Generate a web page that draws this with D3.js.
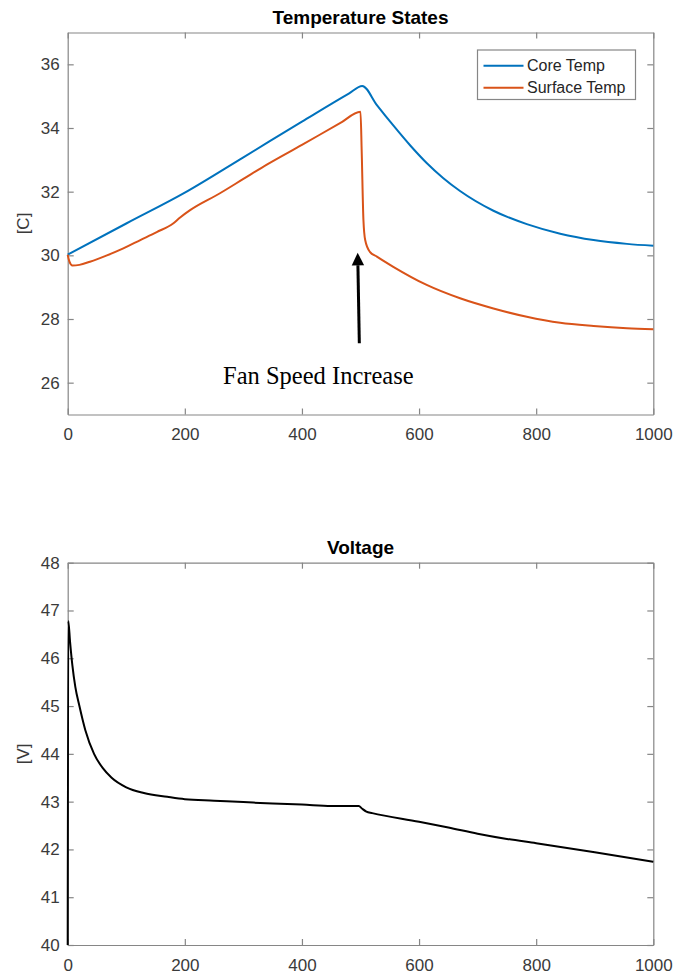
<!DOCTYPE html>
<html>
<head>
<meta charset="utf-8">
<script src="https://cdn.jsdelivr.net/npm/d3@7"></script>
<style>
  html, body { margin: 0; padding: 0; background: #fff; }
  svg { display: block; }
</style>
</head>
<body>
<svg id="chart" width="675" height="974"></svg>
<script>
// ---------------- DATA ----------------
const xTicks = [0, 200, 400, 600, 800, 1000];
const tempTicks = [26, 28, 30, 32, 34, 36];
const voltTicks = [40, 41, 42, 43, 44, 45, 46, 47, 48];

const seriesNames = ["Core Temp", "Surface Temp"];

const coreTime = [0, 100, 200, 300, 400, 480, 503, 528, 556, 585, 613, 641, 670, 727, 784, 841, 898, 955, 1000];
const coreTemp = [30.02, 31.0, 31.97, 33.08, 34.2, 35.08, 35.32, 34.72, 34.08, 33.45, 32.9, 32.43, 32.02, 31.4, 30.98, 30.68, 30.48, 30.36, 30.30];

const surfTime = [0, 3, 8, 20, 38, 67, 95, 124, 152, 180, 192, 209, 260, 300, 340, 400, 465, 500, 502, 505, 508, 516, 528, 556, 613, 670, 727, 784, 841, 898, 955, 1000];
const surfTemp = [30.02, 29.8, 29.68, 29.7, 29.8, 30.0, 30.22, 30.48, 30.73, 31.0, 31.19, 31.42, 31.95, 32.4, 32.85, 33.47, 34.15, 34.51, 33.3, 31.11, 30.48, 30.11, 29.96, 29.64, 29.07, 28.65, 28.33, 28.07, 27.88, 27.78, 27.71, 27.68];

const voltTime = [0, 1, 4, 8, 13, 20, 30, 45, 60, 75, 100, 130, 170, 200, 250, 300, 350, 400, 450, 497, 503, 510, 520, 600, 650, 700, 750, 800, 900, 1000];
const voltage  = [40, 46.78, 46.35, 45.85, 45.4, 45.0, 44.5, 44.0, 43.7, 43.5, 43.3, 43.18, 43.1, 43.05, 43.02, 42.99, 42.96, 42.94, 42.91, 42.91, 42.85, 42.79, 42.76, 42.58, 42.46, 42.33, 42.22, 42.13, 41.94, 41.74];

// annotation (data coordinates): arrow tail, arrow tip, text anchor
const annotText = "Fan Speed Increase";
const arrowTail = [498, 27.24];
const arrowTip = [495.2, 30.08];
const annotPos = [428, 25.95];

// ---------------- LAYOUT ----------------
const svg = d3.select("#chart");
const X0 = 67.7, X1 = 653.3;
const colors = ["#0072BD", "#D95319"];
const axisColor = "#868686";
const labelColor = "#3a3a3a";
const sans = "'Liberation Sans', Arial, sans-serif";

function panel(cfg) {
  const x = d3.scaleLinear().domain([0, 1000]).range([X0, X1]);
  const y = d3.scaleLinear().domain(cfg.yDomain).range([cfg.bottom, cfg.top]);
  const g = svg.append("g");

  g.append("text")
    .attr("x", (X0 + X1) / 2).attr("y", cfg.top - 8.5)
    .attr("text-anchor", "middle")
    .style("font-family", sans).style("font-weight", "bold").style("font-size", "19px")
    .attr("fill", "#000").text(cfg.title);

  const styleAxis = sel => {
    sel.selectAll("path, line").attr("stroke", axisColor).attr("stroke-width", 1.2);
    sel.selectAll("text").attr("fill", labelColor).style("font-family", sans).style("font-size", "17px");
  };
  g.append("g").attr("transform", `translate(0,${cfg.bottom})`)
    .call(d3.axisBottom(x).tickValues(xTicks).tickFormat(d3.format("d")).tickSize(-6).tickSizeOuter(0).tickPadding(13.5))
    .call(styleAxis);
  g.append("g").attr("transform", `translate(0,${cfg.top})`)
    .call(d3.axisTop(x).tickValues(xTicks).tickSize(-6).tickSizeOuter(0).tickFormat(""))
    .call(styleAxis);
  g.append("g").attr("transform", `translate(${X0},0)`)
    .call(d3.axisLeft(y).tickValues(cfg.yTicks).tickFormat(d3.format("d")).tickSize(-6).tickSizeOuter(0).tickPadding(8))
    .call(styleAxis);
  g.append("g").attr("transform", `translate(${X1},0)`)
    .call(d3.axisRight(y).tickValues(cfg.yTicks).tickSize(-6).tickSizeOuter(0).tickFormat(""))
    .call(styleAxis);

  g.append("text")
    .attr("transform", `translate(23,${(cfg.top + cfg.bottom) / 2}) rotate(-90)`)
    .attr("text-anchor", "middle").attr("dominant-baseline", "central")
    .style("font-family", sans).style("font-size", "17px")
    .attr("fill", labelColor).text(cfg.yLabel);

  const line = d3.line().x(d => x(d[0])).y(d => y(d[1])).curve(d3.curveMonotoneX);
  cfg.series.forEach(s => {
    const pts = s.t.map((t, i) => [t, s.v[i]]);
    g.append("path").datum(pts)
      .attr("d", line).attr("fill", "none")
      .attr("stroke", s.color).attr("stroke-width", 2)
      .attr("stroke-linejoin", "round");
  });
  return { x, y, g };
}

const tempPanel = panel({
  title: "Temperature States", yLabel: "[C]",
  yDomain: [25, 37], yTicks: tempTicks, top: 32.5, bottom: 414.5,
  series: [
    { t: coreTime, v: coreTemp, color: colors[0] },
    { t: surfTime, v: surfTemp, color: colors[1] }
  ]
});

panel({
  title: "Voltage", yLabel: "[V]",
  yDomain: [40, 48], yTicks: voltTicks, top: 562.7, bottom: 945,
  series: [{ t: voltTime, v: voltage, color: "#000" }]
});

// legend
const lg = tempPanel.g.append("g");
lg.append("rect").attr("x", 477.5).attr("y", 50).attr("width", 158).attr("height", 49.5)
  .attr("fill", "#fff").attr("stroke", axisColor).attr("stroke-width", 1.2);
seriesNames.forEach((name, i) => {
  const yy = 65.7 + i * 22;
  lg.append("line").attr("x1", 483.5).attr("x2", 523.5).attr("y1", yy).attr("y2", yy)
    .attr("stroke", colors[i]).attr("stroke-width", 2);
  lg.append("text").attr("x", 527).attr("y", yy).attr("dominant-baseline", "central")
    .style("font-family", sans).style("font-size", "16px").attr("fill", "#262626").text(name);
});

// annotation arrow + text
const ax = tempPanel.x, ay = tempPanel.y;
const tipX = ax(arrowTip[0]), tipY = ay(arrowTip[1]);
const tailX = ax(arrowTail[0]), tailY = ay(arrowTail[1]);
const headLen = 12.5, headHalf = 6.2;
const ang = Math.atan2(tipY - tailY, tipX - tailX);
const bx = tipX - headLen * Math.cos(ang), by = tipY - headLen * Math.sin(ang);
tempPanel.g.append("line")
  .attr("x1", tailX).attr("y1", tailY).attr("x2", bx).attr("y2", by)
  .attr("stroke", "#000").attr("stroke-width", 3);
tempPanel.g.append("path")
  .attr("d", `M${tipX},${tipY} L${bx + headHalf * Math.sin(ang)},${by - headHalf * Math.cos(ang)} L${bx - headHalf * Math.sin(ang)},${by + headHalf * Math.cos(ang)} Z`)
  .attr("fill", "#000");
tempPanel.g.append("text")
  .attr("x", ax(annotPos[0])).attr("y", ay(annotPos[1]))
  .attr("text-anchor", "middle")
  .style("font-family", "'Liberation Serif', 'Times New Roman', serif").style("font-size", "24.5px")
  .attr("fill", "#000").text(annotText);
</script>
</body>
</html>
